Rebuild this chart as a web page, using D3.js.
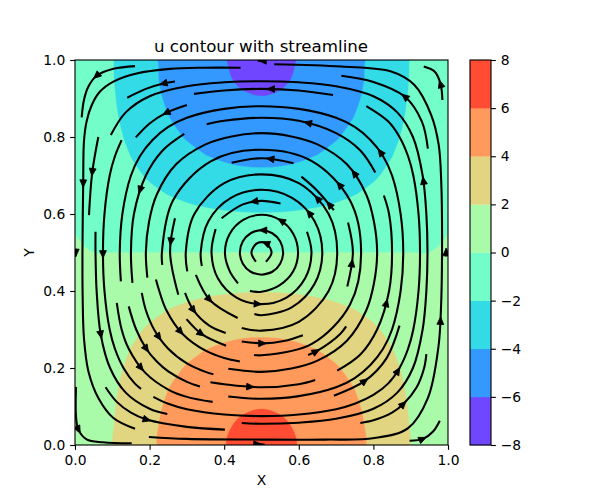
<!DOCTYPE html>
<html><head><meta charset="utf-8">
<script src="https://cdn.jsdelivr.net/npm/d3@7"></script>
<style>html,body{margin:0;background:#fff}svg{display:block}text{font-family:"DejaVu Sans",sans-serif;fill:#000}</style>
</head><body><svg id="c" width="600" height="500"></svg>
<script>
// u values sampled on a 21x21 grid; first row is y = 0, last row is y = 1
const uGrid = [
[0,.98,1.94,2.85,3.69,4.44,5.08,5.60,5.97,6.20,6.28,6.20,5.97,5.60,5.08,4.44,3.69,2.85,1.94,.98,0],
[0,.97,1.92,2.81,3.64,4.38,5.02,5.52,5.90,6.13,6.20,6.13,5.90,5.52,5.02,4.38,3.64,2.81,1.92,.97,0],
[0,.93,1.84,2.71,3.51,4.22,4.83,5.32,5.68,5.90,5.97,5.90,5.68,5.32,4.83,4.22,3.51,2.71,1.84,.93,0],
[0,.87,1.73,2.54,3.29,3.96,4.53,4.99,5.33,5.53,5.60,5.53,5.33,4.99,4.53,3.96,3.29,2.54,1.73,.87,0],
[0,.79,1.57,2.31,2.99,3.59,4.11,4.53,4.83,5.02,5.08,5.02,4.83,4.53,4.11,3.59,2.99,2.31,1.57,.79,0],
[0,.69,1.37,2.02,2.61,3.14,3.59,3.96,4.22,4.39,4.44,4.39,4.22,3.96,3.59,3.14,2.61,2.02,1.37,.69,0],
[0,.58,1.14,1.68,2.17,2.61,2.99,3.29,3.51,3.65,3.69,3.65,3.51,3.29,2.99,2.61,2.17,1.68,1.14,.58,0],
[0,.44,.88,1.29,1.68,2.02,2.31,2.54,2.71,2.82,2.85,2.82,2.71,2.54,2.31,2.02,1.68,1.29,.88,.44,0],
[0,.30,.60,.88,1.14,1.37,1.57,1.73,1.84,1.92,1.94,1.92,1.84,1.73,1.57,1.37,1.14,.88,.60,.30,0],
[0,.15,.30,.44,.58,.69,.79,.87,.93,.97,.98,.97,.93,.87,.79,.69,.58,.44,.30,.15,0],
[0,0,0,0,0,0,0,0,0,0,0,0,0,0,0,0,0,0,0,0,0],
[0,-.15,-.30,-.44,-.58,-.69,-.79,-.87,-.93,-.97,-.98,-.97,-.93,-.87,-.79,-.69,-.58,-.44,-.30,-.15,0],
[0,-.30,-.60,-.88,-1.14,-1.37,-1.57,-1.73,-1.84,-1.92,-1.94,-1.92,-1.84,-1.73,-1.57,-1.37,-1.14,-.88,-.60,-.30,0],
[0,-.44,-.88,-1.29,-1.68,-2.02,-2.31,-2.54,-2.71,-2.82,-2.85,-2.82,-2.71,-2.54,-2.31,-2.02,-1.68,-1.29,-.88,-.44,0],
[0,-.58,-1.14,-1.68,-2.17,-2.61,-2.99,-3.29,-3.51,-3.65,-3.69,-3.65,-3.51,-3.29,-2.99,-2.61,-2.17,-1.68,-1.14,-.58,0],
[0,-.69,-1.37,-2.02,-2.61,-3.14,-3.59,-3.96,-4.22,-4.39,-4.44,-4.39,-4.22,-3.96,-3.59,-3.14,-2.61,-2.02,-1.37,-.69,0],
[0,-.79,-1.57,-2.31,-2.99,-3.59,-4.11,-4.53,-4.83,-5.02,-5.08,-5.02,-4.83,-4.53,-4.11,-3.59,-2.99,-2.31,-1.57,-.79,0],
[0,-.87,-1.73,-2.54,-3.29,-3.96,-4.53,-4.99,-5.33,-5.53,-5.60,-5.53,-5.33,-4.99,-4.53,-3.96,-3.29,-2.54,-1.73,-.87,0],
[0,-.93,-1.84,-2.71,-3.51,-4.22,-4.83,-5.32,-5.68,-5.90,-5.97,-5.90,-5.68,-5.32,-4.83,-4.22,-3.51,-2.71,-1.84,-.93,0],
[0,-.97,-1.92,-2.81,-3.64,-4.38,-5.02,-5.52,-5.90,-6.13,-6.20,-6.13,-5.90,-5.52,-5.02,-4.38,-3.64,-2.81,-1.92,-.97,0],
[0,-.98,-1.94,-2.85,-3.69,-4.44,-5.08,-5.60,-5.97,-6.20,-6.28,-6.20,-5.97,-5.60,-5.08,-4.44,-3.69,-2.85,-1.94,-.98,0]
];
const levels = [-8,-6,-4,-2,0,2,4,6,8];
const bandColors = ["#7046ff","#3399ff","#33dbe6","#73fdc8","#a9fba9","#e2d582","#ff9a5c","#ff4c33"];
const xTicks = [0,.2,.4,.6,.8,1];
const yTicks = [0,.2,.4,.6,.8,1];
const titleText = "u contour with streamline", xLabel = "X", yLabel = "Y";

// streamline pieces, in flow order
const sCornerTL=[[.161,.984],[.103,.977],[.058,.959],[.036,.931],[.024,.896],[.018,.851]];
const sOuterA=[[.444,.98],[.344,.98],[.255,.977],[.165,.965],[.103,.944],[.067,.918],[.045,.883],[.031,.84],[.024,.788],[.022,.68],[.02,.5],[.0206,.382],[.024,.278],[.036,.191],[.0626,.122],[.103,.07],[.161,.042]];
const sOuterB=[[.198,.021],[.3,.016],[.5,.014],[.669,.014],[.803,.018],[.893,.044],[.946,.122],[.974,.252],[.981,.35],[.984,.5],[.982,.68],[.975,.78],[.955,.857],[.91,.935],[.848,.97],[.714,.983],[.534,.989]];
const sTopLeftShort=[[.268,.944],[.237,.939],[.19,.925],[.14,.902]];
const sC1=[[.447,.057],[.5,.055],[.6,.058],[.7,.068],[.8,.094],[.864,.136],[.906,.2],[.932,.3],[.942,.4],[.945,.5],[.942,.6],[.932,.7],[.906,.8],[.864,.864],[.8,.906],[.7,.932],[.6,.942],[.5,.945],[.4,.942],[.3,.932],[.2,.906],[.136,.864],[.096,.805]];
const sC2=[[.055,.554],[.055,.5],[.058,.4],[.069,.287],[.094,.2],[.136,.136],[.2,.094],[.2475,.0805]];
const sDTop=[[.692,.909],[.6,.921],[.5,.925],[.4,.921],[.319,.912]];
const sDLeft=[[.125,.792],[.107,.75],[.093,.7],[.079,.6],[.075,.5],[.079,.4],[.093,.3],[.107,.25],[.13,.2],[.16,.16],[.177,.146]];
const sDRight=[[.21,.125],[.25,.107],[.3,.093],[.4,.079],[.5,.075],[.6,.079],[.7,.093],[.75,.107],[.8,.13],[.84,.16],[.87,.2],[.893,.25],[.907,.3],[.921,.4],[.925,.5],[.921,.6],[.907,.7],[.893,.75],[.87,.8],[.84,.84],[.781,.88]];
const sTopRightShort=[[.946,.77],[.93,.84],[.884,.905],[.8,.943],[.714,.959]];
const sQUp=[[.0625,.8],[.046,.706],[.0375,.597]];
const sQBottom=[[.082,.15],[.112,.112],[.15,.084],[.192,.066],[.3,.047],[.402,.04]];
const sQRight=[[.765,.057],[.8,.064],[.85,.084],[.881,.107],[.916,.15],[.936,.2],[.942,.236]];
const sUpperLeft29=[[.3,.883],[.243,.862],[.2,.835],[.163,.799]];
const sLower31=[[.112,.369],[.125,.3],[.144,.25],[.188,.188],[.25,.144],[.3,.125],[.369,.112]];
const sE=[[.411,.126],[.5,.12],[.6,.127],[.7,.15],[.75,.174],[.792,.208],[.826,.25],[.85,.3],[.873,.4],[.88,.5],[.873,.6],[.85,.7],[.826,.75],[.792,.792],[.75,.826],[.7,.85],[.6,.873],[.5,.88],[.4,.873],[.3,.85],[.25,.826],[.208,.792],[.174,.75],[.15,.7],[.127,.6],[.12,.5],[.123,.425]];
const sRight33=[[.694,.128],[.778,.167],[.835,.225],[.87,.31]];
const sLower40=[[.144,.36],[.164,.3],[.191,.25],[.218,.218],[.25,.191],[.3,.164],[.335,.152]];
const sFTop=[[.805,.708],[.765,.765],[.7,.81],[.6,.842],[.5,.85],[.4,.842],[.353,.833]];
const sFLeft=[[.293,.808],[.235,.765],[.19,.7],[.158,.6],[.15,.5],[.154,.421]];
const sFBottom=[[.363,.163],[.4,.158],[.5,.15],[.6,.158],[.644,.169]];
const sFRight=[[.703,.193],[.765,.235],[.81,.3],[.842,.4],[.85,.5],[.842,.6],[.828,.648]];
const sLower50=[[.179,.395],[.19,.35],[.212,.3],[.25,.25],[.3,.212],[.35,.19],[.371,.184]];
const sG=[[.411,.198],[.5,.19],[.58,.1985],[.65,.219],[.729,.271],[.781,.35],[.8015,.42],[.81,.5],[.8015,.58],[.781,.65],[.729,.729],[.65,.781],[.58,.8015],[.5,.81],[.42,.8015],[.35,.781],[.271,.729],[.219,.65],[.1985,.58],[.19,.5],[.194,.435]];
const sSLeft=[[.217,.43],[.226,.4],[.245,.35],[.2885,.2885],[.35,.245],[.4,.226],[.442,.217]];
const sSRight=[[.625,.234],[.65,.245],[.711,.2885],[.727,.308]];
const sH=[[.48,.234],[.5,.233],[.635,.2626],[.7374,.365],[.767,.5],[.7374,.635],[.635,.7374],[.5,.767],[.365,.7374],[.2626,.635],[.233,.5],[.234,.468]];
const sLower69=[[.299,.327],[.34,.288],[.405,.258]];
const sLower75=[[.295,.395],[.317,.351],[.36,.31],[.404,.291]];
const sITop=[[.586,.732],[.5,.745],[.42,.733]];
const sILeft=[[.268,.589],[.255,.5],[.277,.39]];
const sIBottom=[[.447,.269],[.505,.264],[.56,.27],[.611,.285]];
const sIRight=[[.73,.412],[.745,.5],[.732,.578]];
const sUpper77=[[.694,.61],[.65,.66],[.607,.697]];
const sJ=[[.447,.304],[.5,.297],[.6,.32],[.68,.4],[.703,.5],[.68,.6],[.6,.68],[.5,.703],[.4,.68],[.32,.6],[.297,.5],[.301,.451]];
const sLower84=[[.324,.442],[.362,.376],[.436,.33]];
const sK=[[.481,.34],[.5,.337],[.582,.358],[.642,.418],[.663,.5],[.642,.582],[.582,.642],[.5,.663],[.418,.642],[.358,.582],[.337,.5],[.34,.465]];
const sLTop=[[.551,.627],[.5,.634],[.45,.625],[.393,.589]];
const sLRest=[[.377,.561],[.366,.5],[.383,.433],[.433,.383],[.5,.366],[.567,.383],[.617,.433],[.634,.5],[.622,.554]];
const sM=[[.469,.40],[.5,.398],[.549,.415],[.585,.451],[.598,.5],[.585,.549],[.549,.585],[.5,.598],[.451,.585],[.415,.549],[.402,.5],[.415,.451],[.437,.42]];
const sN=[[.5,.442],[.529,.45],[.55,.471],[.558,.5],[.55,.529],[.529,.55],[.5,.558],[.471,.55],[.45,.529],[.442,.5],[.45,.471],[.471,.45],[.5,.442]];
const sO=[[.512,.476],[.527,.5],[.5135,.523],[.5,.527],[.4865,.523],[.473,.5],[.485,.476]];
const sCornerBR=[[.897,.011],[.933,.016],[.96,.035],[.978,.063]];
const sCornerTR=[[.985,.896],[.98,.938],[.964,.97],[.935,.983]];
const sCornerBL=[[.0027,.151],[.0027,.0735],[.009,.04],[.031,.0148],[.075,.007],[.152,.0044]];
const sEdgeLeft=[[.002,.51],[.002,.5],[.002,.49]];
const sEdgeRight=[[.995,.49],[.995,.5],[.995,.51]];
const sEdgeTop=[[.51,.998],[.5,.998],[.49,.998]];
const sEdgeBottom=[[.478,.002],[.5,.002],[.508,.001]];
const streamlines=[sCornerTL,sOuterA,sOuterB,sTopLeftShort,sC1,sC2,sDTop,sDLeft,sDRight,sTopRightShort,sQUp,sQBottom,sQRight,sUpperLeft29,sLower31,sE,sRight33,sLower40,sFTop,sFLeft,sFBottom,sFRight,sLower50,sG,sSLeft,sSRight,sH,sLower69,sLower75,sITop,sILeft,sIBottom,sIRight,sUpper77,sJ,sLower84,sK,sLTop,sLRest,sM,sN,sO,sCornerBR,sCornerTR,sCornerBL,sEdgeLeft,sEdgeRight,sEdgeTop,sEdgeBottom];
const arrowPoints=[[.058,.959],[.237,.939],[.243,.864],[.022,.68],[.046,.706],[.174,.662],[.073,.496],[.255,.526],[.478,.635],[.503,.558],[.513,.524],
[.526,.926],[.625,.836],[.884,.905],[.98,.938],[.817,.759],[.75,.708],[.93,.688],[.709,.675],[.647,.639],[.685,.628],[.625,.60],[.555,.589],[.525,.745],
[.009,.04],[.069,.285],[.192,.066],[.179,.2],[.19,.247],[.228,.282],[.282,.291],[.317,.351],[.34,.288],[.362,.376],[.491,.364],[.505,.263],[.469,.15],[.491,.003],[.002,.5],
[.741,.474],[.83,.371],[.982,.325],[.647,.243],[.778,.167],[.864,.194],[.881,.107],[.933,.016],[.995,.5],[.5,.998]];

const svg=d3.select("#c");
const L=75,R=448,T=60,B=445;
const x=d3.scaleLinear([0,1],[L,R]), y=d3.scaleLinear([0,1],[B,T]);
const defs=svg.append("defs");
defs.append("clipPath").attr("id","plot").append("rect").attr("x",L).attr("y",T).attr("width",R-L).attr("height",B-T);
const plot=svg.append("g").attr("clip-path","url(#plot)");
const ny=uGrid.length,nx=uGrid[0].length;
const cx=d3.scaleLinear([.5,nx-.5],[0,1]), cy=d3.scaleLinear([.5,ny-.5],[0,1]);
plot.append("rect").attr("x",L).attr("y",T).attr("width",R-L).attr("height",B-T).attr("fill",bandColors[0]);
const conts=d3.contours().size([nx,ny]).thresholds(levels.slice(1,-1))(uGrid.flat());
const ringLine=d3.line().x(d=>x(cx(d[0]))).y(d=>y(cy(d[1]))).curve(d3.curveCatmullRomClosed.alpha(.5));
const bandPath=c=>c.coordinates.flatMap(poly=>poly.map(r=>ringLine(r.slice(0,-1)))).join("");
plot.selectAll("path.band").data(conts).join("path").attr("class","band").attr("d",bandPath)
  .attr("fill-rule","evenodd").attr("fill",(d,i)=>bandColors[i+1]).attr("stroke",(d,i)=>bandColors[i+1]).attr("stroke-width",.3);
const line=d3.line().x(d=>x(d[0])).y(d=>y(d[1])).curve(d3.curveCatmullRom.alpha(.5));
const sl=plot.selectAll("path.sl").data(streamlines).join("path").attr("class","sl").attr("d",line)
  .attr("fill","none").attr("stroke","#000").attr("stroke-width",2.08).attr("stroke-linejoin","round");
const samples=[];
sl.each(function(){const n=this.getTotalLength();for(let s=0;s<n;s+=1.5){const p=this.getPointAtLength(s),q=this.getPointAtLength(Math.min(n,s+1.5));samples.push([p.x,p.y,Math.atan2(q.y-p.y,q.x-p.x)]);}});
arrowPoints.forEach(a=>{
  const px=x(a[0]),py=y(a[1]);
  const m=d3.least(samples,s=>(s[0]-px)**2+(s[1]-py)**2);
  plot.append("path").attr("d","M-4,-3.4L3.6,0L-4,3.4Z").attr("fill","#000").attr("stroke","#000").attr("stroke-width",.8)
    .attr("transform",`translate(${m[0]},${m[1]}) rotate(${m[2]*180/Math.PI})`);
});
function styleAxis(g){g.select(".domain").remove();g.selectAll(".tick line").attr("stroke","#000").attr("stroke-width",1.11);g.selectAll("text").attr("font-size",13.89).attr("font-family","DejaVu Sans").attr("fill","#000");}
svg.append("g").attr("transform",`translate(0,${B})`).call(d3.axisBottom(x).tickValues(xTicks).tickFormat(d3.format(".1f")).tickSize(4.86).tickPadding(4.86)).call(styleAxis);
svg.append("g").attr("transform",`translate(${L},0)`).call(d3.axisLeft(y).tickValues(yTicks).tickFormat(d3.format(".1f")).tickSize(4.86).tickPadding(4.86)).call(styleAxis);
svg.append("rect").attr("x",L).attr("y",T).attr("width",R-L).attr("height",B-T).attr("fill","none").attr("stroke","#000").attr("stroke-width",1.11);
svg.append("text").attr("x",261).attr("y",T-8).attr("text-anchor","middle").attr("font-size",16.67).text(titleText);
svg.append("text").attr("x",(L+R)/2).attr("y",485).attr("text-anchor","middle").attr("font-size",13.89).text(xLabel);
svg.append("text").attr("transform",`translate(34,${(T+B)/2}) rotate(-90)`).attr("text-anchor","middle").attr("font-size",13.89).text(yLabel);
// colorbar
const CL=470,CR=491;
const cb=d3.scaleLinear([levels[0],levels[levels.length-1]],[B,T]);
svg.selectAll("rect.cb").data(bandColors).join("rect").attr("class","cb").attr("x",CL).attr("width",CR-CL)
  .attr("y",(d,i)=>cb(levels[i+1])).attr("height",(d,i)=>cb(levels[i])-cb(levels[i+1])+.3).attr("fill",d=>d);
svg.append("g").attr("transform",`translate(${CR},0)`).call(d3.axisRight(cb).tickValues(levels).tickFormat(d=>d<0?"\u2212"+(-d):""+d).tickSize(4.86).tickPadding(4.86)).call(styleAxis);
svg.append("rect").attr("x",CL).attr("y",T).attr("width",CR-CL).attr("height",B-T).attr("fill","none").attr("stroke","#000").attr("stroke-width",1.11);
</script></body></html>
